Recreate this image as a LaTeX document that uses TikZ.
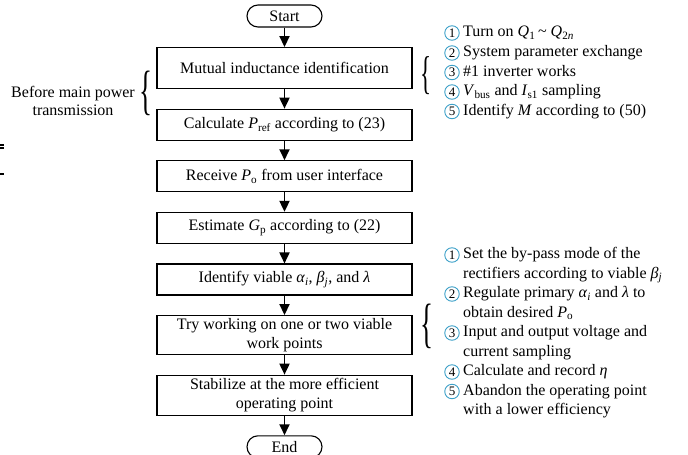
\documentclass[tikz,border=0pt]{standalone}
\usepackage{fontspec}
\setmainfont{Liberation Serif}
\usetikzlibrary{arrows.meta,positioning}

\definecolor{numcyan}{RGB}{60,160,200}
\newcommand{\vsub}[2]{\textit{#1}\textsubscript{#2}}
\newcommand{\bigbrace}[1]{\scalebox{0.5}[1]{\fontsize{#1}{#1}\selectfont\{}}

\begin{document}
\begin{tikzpicture}[
  x=1pt, y=-1pt,
  font=\fontsize{16}{19.5}\selectfont,
  node distance=19.5pt,
  proc/.style={
    draw,
    line width=1.1pt,
    minimum width=255pt,
    minimum height=31pt,
    align=center,
    inner sep=1pt,
    font=\fontsize{16}{18.5}\selectfont
  },
  term/.style={
    draw,
    line width=1.1pt,
    rounded corners=11pt,
    minimum width=75pt,
    minimum height=22pt,
    inner sep=0pt
  },
  flow/.style={
    -{Triangle[length=11pt,width=10pt]},
    line width=1.8pt
  },
  num/.style={
    circle,
    draw=numcyan,
    line width=0.9pt,
    inner sep=0pt,
    minimum size=14.5pt,
    font=\fontsize{13}{13}\selectfont
  },
  note/.style={
    anchor=west,
    inner sep=0pt,
    text height=11pt,
    text depth=3.5pt
  },
  bracenode/.style={
    inner sep=0pt
  }
]
\useasboundingbox (0,0) rectangle (688,455);

% Main flow
\node[term] (start) at (284.5,16) {Start};
\node[proc, minimum height=41pt, below=of start] (mutual) {Mutual inductance identification};
\node[proc, below=of mutual] (pref) {Calculate \vsub{P}{ref} according to (23)};
\node[proc, below=of pref] (receive) {Receive \vsub{P}{o} from user interface};
\node[proc, below=of receive] (estimate) {Estimate \vsub{G}{p} according to (22)};
\node[proc, below=of estimate] (viable) {Identify viable \vsub{α}{\textit{i}}, \vsub{β}{\textit{j}}, and \textit{λ}};
\node[proc, minimum height=39pt, below=of viable] (trywork) {Try working on one or two viable\\work points};
\node[proc, minimum height=40pt, below=of trywork] (stable) {Stabilize at the more efficient\\operating point};
\node[term, below=of stable] (stop) {End};

\draw[flow] (start) -- (mutual);
\draw[flow] (mutual) -- (pref);
\draw[flow] (pref) -- (receive);
\draw[flow] (receive) -- (estimate);
\draw[flow] (estimate) -- (viable);
\draw[flow] (viable) -- (trywork);
\draw[flow] (trywork) -- (stable);
\draw[flow] (stable) -- (stop);

% Left remark
\node[align=center, font=\fontsize{16}{18.5}\selectfont] (before) at (73,101) {Before main power\\transmission};
\node[bracenode] (lbrace) at (145.5,93) {\bigbrace{54}};

% Identification steps
\node[bracenode] (upbrace) at (426,76) {\bigbrace{46}};
\node[num] (upnum1) at (452,33) {1};
\node[note] (uptext1) at (463,33) {Turn on \vsub{Q}{1}\,\textasciitilde\ \vsub{Q}{2\textit{n}}};
\node[num] (upnum2) at (452,53) {2};
\node[note] (uptext2) at (463,53) {System parameter exchange};
\node[num] (upnum3) at (452,72.5) {3};
\node[note] (uptext3) at (463,72.5) {\#1 inverter works};
\node[num] (upnum4) at (452,92) {4};
\node[note] (uptext4) at (463,92) {\vsub{V}{bus} and \vsub{I}{s1} sampling};
\node[num] (upnum5) at (452,111.5) {5};
\node[note] (uptext5) at (463,111.5) {Identify \textit{M} according to (50)};

% Work point trial steps
\node[bracenode] (lowbrace) at (427,326) {\bigbrace{54}};
\node[num] (lownum1) at (452,255) {1};
\node[note] (lowtext1a) at (463,255) {Set the by-pass mode of the};
\node[note] (lowtext1b) at (463,274.5) {rectifiers according to viable \vsub{β}{\textit{j}}};
\node[num] (lownum2) at (452,294) {2};
\node[note] (lowtext2a) at (463,294) {Regulate primary \vsub{α}{\textit{i}} and \textit{λ} to};
\node[note] (lowtext2b) at (463,313.5) {obtain desired \vsub{P}{o}};
\node[num] (lownum3) at (452,333) {3};
\node[note] (lowtext3a) at (463,333) {Input and output voltage and};
\node[note] (lowtext3b) at (463,352.5) {current sampling};
\node[num] (lownum4) at (452,372) {4};
\node[note] (lowtext4) at (463,372) {Calculate and record \textit{η}};
\node[num] (lownum5) at (452,391.5) {5};
\node[note] (lowtext5a) at (463,391.5) {Abandon the operating point};
\node[note] (lowtext5b) at (463,411) {with a lower efficiency};

% cut marks at the left edge
\draw[line width=1.2pt] (0,145) -- (4,145);
\draw[line width=1.2pt] (0,148) -- (4,148);
\draw[line width=1.2pt] (0,174) -- (4,174);

\end{tikzpicture}
\end{document}
